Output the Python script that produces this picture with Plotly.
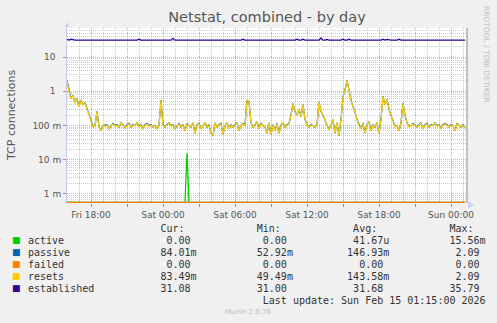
import math
import pandas as pd
import plotly.graph_objects as go

# ---------------- data ----------------
start_time = "2026-02-13 16:00"
step = "10min"

resets = [
    2.0, 0.95, 0.6, 0.75, 0.45, 0.6, 0.35, 0.55, 0.4, 0.45,
    0.3, 0.2, 0.15, 0.09, 0.1, 0.26, 0.09, 0.07, 0.1, 0.095,
    0.1, 0.08, 0.1, 0.11, 0.095, 0.1, 0.09, 0.12, 0.1, 0.085,
    0.1, 0.11, 0.09, 0.1, 0.1, 0.12, 0.09, 0.1, 0.08, 0.1,
    0.11, 0.095, 0.1, 0.09, 0.1, 0.08, 0.1, 0.54, 0.1, 0.09,
    0.1, 0.12, 0.095, 0.1, 0.08, 0.1, 0.11, 0.09, 0.1, 0.07,
    0.11, 0.1, 0.09, 0.12, 0.06, 0.1, 0.11, 0.08, 0.1, 0.12,
    0.09, 0.1, 0.06, 0.05, 0.12, 0.09, 0.1, 0.11, 0.055, 0.1,
    0.12, 0.08, 0.1, 0.09, 0.1, 0.12, 0.07, 0.1, 0.11, 0.1,
    0.54, 0.5, 0.12, 0.09, 0.1, 0.13, 0.08, 0.11, 0.1, 0.09,
    0.06, 0.12, 0.055, 0.1, 0.07, 0.11, 0.06, 0.1, 0.12, 0.09,
    0.1, 0.11, 0.2, 0.44, 0.25, 0.2, 0.3, 0.18, 0.4, 0.15,
    0.1, 0.09, 0.1, 0.1, 0.09, 0.1, 0.47, 0.26, 0.2, 0.14,
    0.1, 0.075, 0.1, 0.15, 0.06, 0.12, 0.05, 0.15, 0.7, 1.1,
    2.09, 1.0, 0.55, 0.35, 0.25, 0.15, 0.1, 0.08, 0.11, 0.06,
    0.1, 0.13, 0.07, 0.1, 0.09, 0.12, 0.06, 0.15, 0.7, 0.4,
    0.58, 0.3, 0.2, 0.13, 0.09, 0.1, 0.07, 0.12, 0.44, 0.2,
    0.12, 0.09, 0.1, 0.11, 0.1, 0.09, 0.1, 0.12, 0.08, 0.1,
    0.11, 0.09, 0.1, 0.1, 0.12, 0.095, 0.1, 0.08, 0.1, 0.11,
    0.1, 0.09, 0.1, 0.1, 0.07, 0.11, 0.1, 0.09, 0.1, 0.083,
]

passive = [
    2.09, 1.0, 0.61, 0.76, 0.46, 0.61, 0.36, 0.56, 0.41, 0.46,
    0.31, 0.2, 0.15, 0.095, 0.1, 0.26, 0.095, 0.07, 0.1, 0.1,
    0.105, 0.08, 0.1, 0.115, 0.1, 0.105, 0.09, 0.12, 0.105, 0.085,
    0.105, 0.115, 0.09, 0.105, 0.1, 0.12, 0.095, 0.105, 0.08, 0.105,
    0.115, 0.1, 0.105, 0.09, 0.1, 0.08, 0.105, 0.55, 0.105, 0.09,
    0.105, 0.12, 0.1, 0.105, 0.08, 0.1, 0.115, 0.09, 0.105, 0.07,
    0.115, 0.1, 0.09, 0.12, 0.06, 0.105, 0.115, 0.08, 0.1, 0.12,
    0.09, 0.105, 0.06, 0.05, 0.12, 0.09, 0.105, 0.115, 0.055, 0.1,
    0.12, 0.08, 0.105, 0.09, 0.105, 0.12, 0.07, 0.1, 0.115, 0.105,
    0.55, 0.5, 0.12, 0.09, 0.105, 0.13, 0.08, 0.115, 0.1, 0.09,
    0.06, 0.12, 0.055, 0.105, 0.07, 0.115, 0.06, 0.105, 0.12, 0.09,
    0.105, 0.115, 0.2, 0.45, 0.25, 0.2, 0.3, 0.18, 0.41, 0.15,
    0.105, 0.09, 0.105, 0.1, 0.09, 0.105, 0.48, 0.26, 0.2, 0.14,
    0.105, 0.075, 0.1, 0.15, 0.06, 0.12, 0.05, 0.15, 0.71, 1.1,
    2.09, 1.0, 0.56, 0.35, 0.25, 0.15, 0.105, 0.08, 0.115, 0.06,
    0.105, 0.13, 0.07, 0.105, 0.09, 0.12, 0.06, 0.15, 0.71, 0.4,
    0.59, 0.3, 0.2, 0.13, 0.095, 0.1, 0.07, 0.12, 0.45, 0.2,
    0.12, 0.095, 0.1, 0.115, 0.1, 0.09, 0.105, 0.12, 0.08, 0.105,
    0.115, 0.09, 0.105, 0.1, 0.12, 0.1, 0.105, 0.08, 0.105, 0.115,
    0.105, 0.09, 0.105, 0.1, 0.07, 0.115, 0.1, 0.09, 0.105, 0.084,
]

established = [
    33, 31, 33, 31.5, 31, 31, 31, 31, 31, 31,
    31, 31, 31, 31, 31, 31, 31, 31, 31, 31,
    31, 31, 31, 31, 31, 31, 31, 31, 31, 31,
    31, 31, 31, 31, 31, 31, 33, 31, 31, 31,
    31, 31, 31, 31, 31, 31, 31, 32, 31, 31,
    31, 31, 31, 35, 31, 31, 31, 31, 31, 31,
    31, 31, 31, 31, 31, 31, 31, 31, 31, 31,
    31, 31, 31, 31, 31, 31, 31, 31, 31, 31,
    31, 31, 31, 31, 31, 31, 31, 31, 33, 31,
    31, 31, 31, 31, 31, 31, 31, 31, 31, 31,
    31, 31, 31, 31, 31, 31, 31, 31, 31, 31,
    32.5, 31, 31, 31, 31, 33, 31, 31, 33, 31,
    31, 31, 31, 31, 31, 31, 31, 35.79, 31, 31,
    32.5, 31, 31, 31, 31, 31, 31, 31, 33, 31,
    31, 33, 31, 31, 31, 31, 31, 31, 31, 31,
    31, 31, 31, 31, 31, 31, 31, 31, 33, 31,
    32.5, 31, 31, 31, 31, 31, 33, 31, 31, 31,
    31, 31, 31, 31, 31, 31, 31, 31, 31, 31,
    31, 31, 31, 31, 31, 31, 31, 31, 31, 31,
    31, 31, 31, 31, 31, 31, 31, 31, 31, 31.08,
]

active = [0.0] * 60 + [0.01556] + [0.0] * 139
failed = [0.0] * 200

series_names = ["active", "passive", "failed", "resets", "established"]
series_colors = ["#00CC00", "#0066B3", "#FF8000", "#FFCC00", "#330099"]
series_values = [active, passive, failed, resets, established]

stat_cur = [0.0, 0.08401, 0.0, 0.08349, 31.08]
stat_min = [0.0, 0.05292, 0.0, 0.04949, 31.00]
stat_avg = [41.67e-6, 0.14693, 0.0, 0.14358, 31.68]
stat_max = [0.01556, 2.09, 0.0, 2.09, 35.79]

x_tick_labels = ["Fri 18:00", "Sat 00:00", "Sat 06:00", "Sat 12:00", "Sat 18:00", "Sun 00:00"]
y_tick_values = [0.001, 0.01, 0.1, 1, 10]
y_tick_labels = ["1 m", "10 m", "100 m", "1", "10"]

title = "Netstat, combined - by day"
y_title = "TCP connections"
last_update = "Last update: Sun Feb 15 01:15:00 2026"

# ---------------- layout geometry ----------------
W, H = 497, 323
L, R, T, B = 67, 467, 28, 203
YRANGE = [-3.263, 1.847]
X0, X1 = "2026-02-13 16:00", "2026-02-15 01:20"

def px(x):
    return (x - L) / (R - L)

def py(y):
    return (B - y) / (B - T)

NB = "\u00a0"
times = pd.date_range(start_time, periods=len(resets), freq=step)
floor = 10 ** (YRANGE[0] + 0.02)  # zero values are drawn on the bottom edge (log scale)

fig = go.Figure()
for name, color, vals in zip(series_names, series_colors, series_values):
    yv = [v if v > 0 else floor for v in vals]
    fig.add_trace(go.Scatter(x=times, y=yv, mode="lines", name=name,
                             line=dict(color=color, width=1.25), showlegend=False,
                             hoverinfo="skip"))

major_grid = "rgba(232,140,140,0.75)"
minor_grid = "rgba(190,190,190,0.8)"

xt = pd.date_range("2026-02-13 18:00", "2026-02-15 00:00", freq="3h")
xt_text = []
k = 0
for i, t in enumerate(xt):
    if i % 2 == 0:
        xt_text.append(x_tick_labels[k]); k += 1
    else:
        xt_text.append("")

minor_y = [m * 10.0 ** e for e in range(-4, 2) for m in range(2, 10)]

fig.update_layout(
    width=W, height=H,
    margin=dict(l=L, r=W - R, t=T, b=H - B, pad=0),
    paper_bgcolor="#F0F0F0", plot_bgcolor="#FFFFFF",
    showlegend=False,
    title=dict(text=title, x=0.5, xref="paper", xanchor="center",
               y=1 - 17 / H, yanchor="middle",
               font=dict(family="DejaVu Sans", size=14.5, color="#555555")),
    xaxis=dict(type="date", range=[X0, X1], tickmode="array", tickvals=xt, ticktext=xt_text,
               showgrid=True, gridcolor=major_grid, griddash="1px,1px", gridwidth=1,
               ticks="outside", ticklen=3, tickcolor="#E07070", tickwidth=1,
               showline=False, zeroline=False,
               tickfont=dict(family="DejaVu Sans", size=9, color="#555555"),
               minor=dict(dtick=3600000, tick0=X0, showgrid=True, gridcolor=minor_grid,
                          griddash="1px,1px", gridwidth=1, ticks="")),
    yaxis=dict(type="log", range=YRANGE, tickmode="array", tickvals=y_tick_values,
               ticktext=[t.replace(" ", NB) + (NB * 2 if "m" not in t else "") for t in y_tick_labels],
               showgrid=True, gridcolor=major_grid, griddash="1px,1px", gridwidth=1,
               ticks="outside", ticklen=3, tickcolor="#E07070",
               showline=True, linecolor="#C8C8F0", linewidth=1, zeroline=False,
               tickfont=dict(family="DejaVu Sans", size=9, color="#555555"),
               minor=dict(tickmode="array", tickvals=minor_y, showgrid=True, gridcolor=minor_grid,
                          griddash="1px,1px", gridwidth=1, ticks="")),
)

# frame line on the right and axis arrows
fig.add_shape(type="line", xref="paper", yref="paper", x0=1, x1=1, y0=0, y1=1,
              line=dict(color="#8A8A8A", width=1))
ann = []
ann.append(dict(text="▲", x=px(67), y=py(24), xref="paper", yref="paper", showarrow=False,
                xanchor="center", yanchor="middle", font=dict(size=8, color="#C8D0F8")))
ann.append(dict(text="▶", x=px(471), y=py(203), xref="paper", yref="paper", showarrow=False,
                xanchor="center", yanchor="middle", font=dict(size=8, color="#C8D0F8")))

# y title
ann.append(dict(text=y_title, x=px(11), y=py(115), xref="paper", yref="paper", showarrow=False,
                textangle=-90, xanchor="center", yanchor="middle",
                font=dict(family="DejaVu Sans", size=11, color="#555555")))
# rrdtool credit
ann.append(dict(text="RRDTOOL / TOBI OETIKER", x=px(487), y=py(54), xref="paper", yref="paper",
                showarrow=False, textangle=90, xanchor="center", yanchor="middle",
                font=dict(family="DejaVu Sans", size=7.5, color="#C0C0C0")))

# ---------------- legend table ----------------
SI = {-9: "n", -6: "u", -3: "m", 0: " ", 3: "k", 6: "M"}

def fmt(v, width):
    if v == 0:
        return f"{0:.2f}".rjust(width) + " "
    e = int(math.floor(math.log10(abs(v)) / 3) * 3)
    return f"{v / 10 ** e:.2f}".rjust(width) + SI[e]

mono = dict(family="DejaVu Sans Mono", size=10, color="#333333")
col0 = 26.3
header = " " * 22 + "Cur:" + " " * 12 + "Min:" + " " * 12 + "Avg:" + " " * 12 + "Max:"
ann.append(dict(text=header.replace(" ", NB), x=px(col0), y=py(228), xref="paper", yref="paper",
                showarrow=False, xanchor="left", yanchor="middle", font=mono))
for i, name in enumerate(series_names):
    yrow = 240 + 12 * i
    line = name.ljust(21) + fmt(stat_cur[i], 6) + fmt(stat_min[i], 15) + fmt(stat_avg[i], 15) + fmt(stat_max[i], 15)
    ann.append(dict(text=line.replace(" ", NB), x=px(col0), y=py(yrow), xref="paper", yref="paper",
                    showarrow=False, xanchor="left", yanchor="middle", font=mono))
    ann.append(dict(text="■", x=px(16.5), y=py(yrow), xref="paper", yref="paper", showarrow=False,
                    xanchor="center", yanchor="middle",
                    font=dict(family="DejaVu Sans", size=9, color=series_colors[i])))
lu = " " * 39 + last_update
ann.append(dict(text=lu.replace(" ", NB), x=px(col0), y=py(300), xref="paper", yref="paper",
                showarrow=False, xanchor="left", yanchor="middle", font=mono))
ann.append(dict(text="Munin 2.0.76", x=px(248), y=py(311.5), xref="paper", yref="paper",
                showarrow=False, xanchor="center", yanchor="middle",
                font=dict(family="DejaVu Sans", size=7, color="#BBBBBB")))

fig.update_layout(annotations=ann)
fig.write_html("out.html")
